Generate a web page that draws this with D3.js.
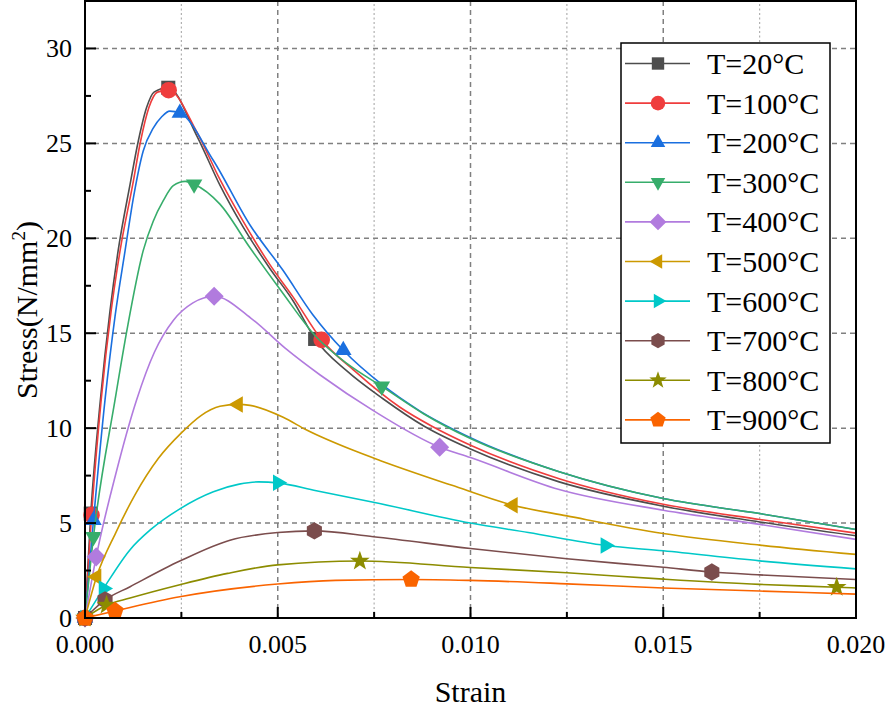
<!DOCTYPE html>
<html>
<head>
<meta charset="utf-8">
<script src="https://cdn.jsdelivr.net/npm/d3@7"></script>
<style>
  body { margin: 0; background: #fff; }
  svg text { font-family: "Liberation Serif", "Times New Roman", Times, serif; }
</style>
</head>
<body>
<script>
// Series labels and colours (Origin default palette)
var temps = ["20", "100", "200", "300", "400", "500", "600", "700", "800", "900"];
var colors = ["#4d4d4d", "#ef3d3d", "#1a6fdf", "#37ad6b", "#b17bde", "#cc9900", "#00c8c8", "#7b4d4d", "#8c8c00", "#fa6400"];
var shapes = ["square", "circle", "triUp", "triDown", "diamond", "triLeft", "triRight", "hexagon", "star", "pentagon"];

// Stress-strain curves, [strain, stress (N/mm2)]
var s20 = [[0,0],[0.00015,5.5],[0.0004,11.5],[0.00065,16.2],[0.00086,19.35],[0.00117,22.85],[0.00138,25.1],[0.0016,26.9],[0.00179,27.7],[0.00216,27.93],[0.0029,25.4],[0.0035,22.8],[0.0041,20.6],[0.0048,18.4],[0.0054,16.7],[0.00597,14.7],[0.0068,13.0],[0.00773,11.55],[0.0088,10.1],[0.01,8.9],[0.0123,7.17],[0.015,5.89],[0.0175,5.06],[0.02,4.33]];
var s100 = [[0,0],[0.00017,5.42],[0.00042,11.5],[0.00068,16.2],[0.00091,19.35],[0.00124,22.85],[0.00144,25.1],[0.00166,26.9],[0.00188,27.7],[0.00217,27.8],[0.0029,25.6],[0.0035,23.1],[0.0041,20.9],[0.0048,18.6],[0.0054,16.9],[0.00614,14.65],[0.007,13.0],[0.00817,11.1],[0.009,10.1],[0.01,9.1],[0.0123,7.34],[0.015,5.99],[0.0175,5.19],[0.02,4.47]];
var s200 = [[0,0],[0.00022,5.15],[0.00052,11.5],[0.00078,15.9],[0.00104,19.35],[0.00127,22.3],[0.00151,24.6],[0.00177,25.8],[0.00199,26.4],[0.0022,26.7],[0.00246,26.6],[0.00333,24.1],[0.00428,20.7],[0.00514,18.3],[0.0059,16.0],[0.0067,14.1],[0.0077,12.3],[0.00869,10.9],[0.01,9.5],[0.0123,7.7],[0.015,6.29],[0.0175,5.5],[0.02,4.66]];
var s300 = [[0,0],[0.00022,4.28],[0.00078,11.5],[0.0011,15.3],[0.00151,19.35],[0.00177,20.9],[0.00203,21.98],[0.00229,22.77],[0.0026,23.0],[0.00283,22.85],[0.0035,21.8],[0.00428,19.5],[0.0051,17.2],[0.006,14.8],[0.0068,13.4],[0.0077,12.2],[0.00878,10.76],[0.01,9.45],[0.0123,7.7],[0.015,6.29],[0.0175,5.5],[0.02,4.66]];
var s400 = [[0,0],[0.00029,3.22],[0.0008,7.6],[0.00134,11.5],[0.0018,14.0],[0.0023,15.7],[0.0028,16.6],[0.00335,16.95],[0.0043,15.8],[0.0052,14.2],[0.0061,12.8],[0.0075,10.9],[0.0092,9.0],[0.01,8.45],[0.0123,6.77],[0.015,5.68],[0.0175,4.93],[0.02,4.14]];
var s500 = [[0,0],[0.0003,2.17],[0.0008,4.5],[0.0013,6.5],[0.0019,8.4],[0.0025,9.75],[0.003,10.65],[0.0035,11.15],[0.00397,11.25],[0.00428,11.2],[0.00514,10.57],[0.00575,9.9],[0.00696,8.83],[0.00765,8.3],[0.0095,7.0],[0.0111,5.94],[0.0125,5.38],[0.015,4.45],[0.0175,3.84],[0.02,3.35]];
var s600 = [[0,0],[0.00048,1.55],[0.00117,3.6],[0.0017,4.65],[0.00246,5.75],[0.00333,6.65],[0.004,7.05],[0.0045,7.17],[0.005,7.12],[0.006,6.7],[0.00748,6.1],[0.01,5.0],[0.0115,4.5],[0.0135,3.82],[0.015,3.54],[0.0175,3.01],[0.02,2.59]];
var s700 = [[0,0],[0.00052,0.95],[0.00117,1.65],[0.00246,3.0],[0.00376,4.1],[0.005,4.5],[0.00595,4.59],[0.00748,4.28],[0.01,3.66],[0.0125,3.12],[0.015,2.67],[0.01626,2.42],[0.0175,2.27],[0.02,2.03]];
var s800 = [[0,0],[0.00056,0.68],[0.00117,1.05],[0.00246,1.75],[0.0037,2.35],[0.005,2.8],[0.00713,3.0],[0.01,2.66],[0.0125,2.38],[0.015,2.05],[0.0175,1.77],[0.0195,1.62],[0.02,1.58]];
var s900 = [[0,0],[0.00078,0.37],[0.00246,1.12],[0.005,1.79],[0.0065,1.98],[0.00846,2.03],[0.01,1.98],[0.0125,1.8],[0.015,1.58],[0.0175,1.42],[0.02,1.26]];

// Points that carry a symbol
var m20 = [[0,0],[0.00015,5.5],[0.00216,27.93],[0.00597,14.7]];
var m100 = [[0,0],[0.00017,5.42],[0.00217,27.8],[0.00614,14.65]];
var m200 = [[0,0],[0.00022,5.15],[0.00246,26.6],[0.0067,14.1]];
var m300 = [[0,0],[0.00022,4.28],[0.00283,22.85],[0.0077,12.2]];
var m400 = [[0,0],[0.00029,3.22],[0.00335,16.95],[0.0092,9.0]];
var m500 = [[0,0],[0.0003,2.17],[0.00397,11.25],[0.0111,5.94]];
var m600 = [[0,0],[0.00048,1.55],[0.005,7.12],[0.0135,3.82]];
var m700 = [[0,0],[0.00052,0.95],[0.00595,4.59],[0.01626,2.42]];
var m800 = [[0,0],[0.00056,0.68],[0.00713,3.0],[0.0195,1.62]];
var m900 = [[0,0],[0.00078,0.37],[0.00846,2.03]];

var xTicks = [0, 0.005, 0.010, 0.015, 0.020];
var yTicks = [0, 5, 10, 15, 20, 25, 30];

var curves = [s20, s100, s200, s300, s400, s500, s600, s700, s800, s900];
var marks = [m20, m100, m200, m300, m400, m500, m600, m700, m800, m900];

var width = 886, height = 712;
var margin = {left: 85, right: 30, top: 1, bottom: 94};
var serif = "Liberation Serif";

var svg = d3.select("body").append("svg")
    .attr("width", width)
    .attr("height", height);

var x = d3.scaleLinear().domain([0, 0.02]).range([margin.left, width - margin.right]);
var y = d3.scaleLinear().domain([0, 32.5]).range([height - margin.bottom, margin.top]);

// Grid: dashed at major ticks, dotted at vertical minor ticks
var grid = svg.append("g");
grid.selectAll(".gx").data([0.005, 0.010, 0.015]).enter().append("line")
    .attr("x1", d => x(d)).attr("x2", d => x(d))
    .attr("y1", y(0)).attr("y2", y(32.5))
    .attr("stroke", "#808080").attr("stroke-width", 1.5).attr("stroke-dasharray", "5,4");
grid.selectAll(".gxm").data([0.0025, 0.0075, 0.0125, 0.0175]).enter().append("line")
    .attr("x1", d => x(d)).attr("x2", d => x(d))
    .attr("y1", y(0)).attr("y2", y(32.5))
    .attr("stroke", "#b0b0b0").attr("stroke-width", 1.2).attr("stroke-dasharray", "2,2.5");
grid.selectAll(".gy").data(yTicks.slice(1)).enter().append("line")
    .attr("x1", x(0)).attr("x2", x(0.02))
    .attr("y1", d => y(d)).attr("y2", d => y(d))
    .attr("stroke", "#808080").attr("stroke-width", 1.5).attr("stroke-dasharray", "5,4");

// Symbol paths, r is roughly the half size in px
function symbolPath(shape, r) {
  function poly(n, rad, rot) {
    var pts = [];
    for (var i = 0; i < n; i++) {
      var a = rot + i * 2 * Math.PI / n;
      pts.push([rad * Math.cos(a), rad * Math.sin(a)]);
    }
    return "M" + pts.map(q => q[0].toFixed(2) + "," + q[1].toFixed(2)).join("L") + "Z";
  }
  switch (shape) {
    case "square": return poly(4, r * 1.2, Math.PI / 4);
    case "circle": return d3.symbol(d3.symbolCircle, Math.PI * r * r)();
    case "triUp": return poly(3, r * 1.15, -Math.PI / 2);
    case "triDown": return poly(3, r * 1.15, Math.PI / 2);
    case "triLeft": return poly(3, r * 1.15, Math.PI);
    case "triRight": return poly(3, r * 1.15, 0);
    case "diamond": return poly(4, r * 1.15, 0);
    case "hexagon": return poly(6, r * 1.05, -Math.PI / 2);
    case "pentagon": return poly(5, r * 1.1, -Math.PI / 2);
    case "star":
      var pts = [];
      for (var i = 0; i < 10; i++) {
        var a = -Math.PI / 2 + i * Math.PI / 5;
        var rad = i % 2 === 0 ? r * 1.25 : r * 0.5;
        pts.push([rad * Math.cos(a), rad * Math.sin(a)]);
      }
      return "M" + pts.map(q => q[0].toFixed(2) + "," + q[1].toFixed(2)).join("L") + "Z";
  }
  return "";
}

svg.append("clipPath").attr("id", "plotclip").append("rect")
    .attr("x", x(0)).attr("y", y(32.5))
    .attr("width", x(0.02) - x(0)).attr("height", y(0) - y(32.5));

var line = d3.line()
    .x(d => x(d[0]))
    .y(d => y(d[1]))
    .curve(d3.curveMonotoneX);

// Draw each series: line then its markers
curves.forEach(function(data, i) {
  var g = svg.append("g");
  g.append("path")
      .datum(data)
      .attr("d", line)
      .attr("clip-path", "url(#plotclip)")
      .attr("fill", "none")
      .attr("stroke", colors[i])
      .attr("stroke-width", 1.6);
  g.selectAll("path.mk")
      .data(marks[i])
      .enter().append("path")
      .attr("class", "mk")
      .attr("d", symbolPath(shapes[i], 8.3))
      .attr("transform", d => "translate(" + x(d[0]) + "," + y(d[1]) + ")")
      .attr("fill", colors[i]);
});

// Frame
svg.append("rect")
    .attr("x", x(0)).attr("y", y(32.5))
    .attr("width", x(0.02) - x(0)).attr("height", y(0) - y(32.5))
    .attr("fill", "none").attr("stroke", "#000").attr("stroke-width", 2);

// Ticks, inward
var ticks = svg.append("g").attr("stroke", "#000").attr("stroke-width", 2);
xTicks.forEach(function(t) {
  ticks.append("line").attr("x1", x(t)).attr("x2", x(t)).attr("y1", y(0)).attr("y2", y(0) - 11);
});
[0.0025, 0.0075, 0.0125, 0.0175].forEach(function(t) {
  ticks.append("line").attr("x1", x(t)).attr("x2", x(t)).attr("y1", y(0)).attr("y2", y(0) - 6);
});
yTicks.forEach(function(t) {
  ticks.append("line").attr("x1", x(0)).attr("x2", x(0) + 11).attr("y1", y(t)).attr("y2", y(t));
});
[2.5, 7.5, 12.5, 17.5, 22.5, 27.5].forEach(function(t) {
  ticks.append("line").attr("x1", x(0)).attr("x2", x(0) + 6).attr("y1", y(t)).attr("y2", y(t));
});

// Tick labels
svg.selectAll(".xl").data(xTicks).enter().append("text")
    .attr("x", d => x(d)).attr("y", y(0) + 35)
    .attr("text-anchor", "middle")
    .style("font-family", serif).style("font-size", "26px")
    .text(d => d3.format(".3f")(d));
svg.selectAll(".yl").data(yTicks).enter().append("text")
    .attr("x", x(0) - 13).attr("y", d => y(d) + 8.5)
    .attr("text-anchor", "end")
    .style("font-family", serif).style("font-size", "26px")
    .text(d => d);

// Axis titles
svg.append("text")
    .attr("x", (x(0) + x(0.02)) / 2).attr("y", 702)
    .attr("text-anchor", "middle")
    .style("font-family", serif).style("font-size", "30px")
    .text("Strain");
var yt = svg.append("text")
    .attr("transform", "translate(37," + 310 + ") rotate(-90)")
    .attr("text-anchor", "middle")
    .style("font-family", serif).style("font-size", "30px");
yt.append("tspan").text("Stress(N/mm");
yt.append("tspan").style("font-size", "19px").attr("dy", -12).text("2");
yt.append("tspan").attr("dy", 12).text(")");

// Legend
var lg = svg.append("g");
lg.append("rect")
    .attr("x", 621).attr("y", 43).attr("width", 209).attr("height", 400)
    .attr("fill", "#fff").attr("stroke", "#000").attr("stroke-width", 1.5);
temps.forEach(function(t, i) {
  var ly = 63.5 + i * 39.6;
  lg.append("line")
      .attr("x1", 625).attr("x2", 690).attr("y1", ly).attr("y2", ly)
      .attr("stroke", colors[i]).attr("stroke-width", 1.6);
  lg.append("path")
      .attr("d", symbolPath(shapes[i], 7.3))
      .attr("transform", "translate(658," + ly + ")")
      .attr("fill", colors[i]);
  lg.append("text")
      .attr("x", 707).attr("y", ly + 10.5)
      .style("font-family", serif).style("font-size", "30px")
      .text("T=" + t + "°C");
});
</script>
</body>
</html>
